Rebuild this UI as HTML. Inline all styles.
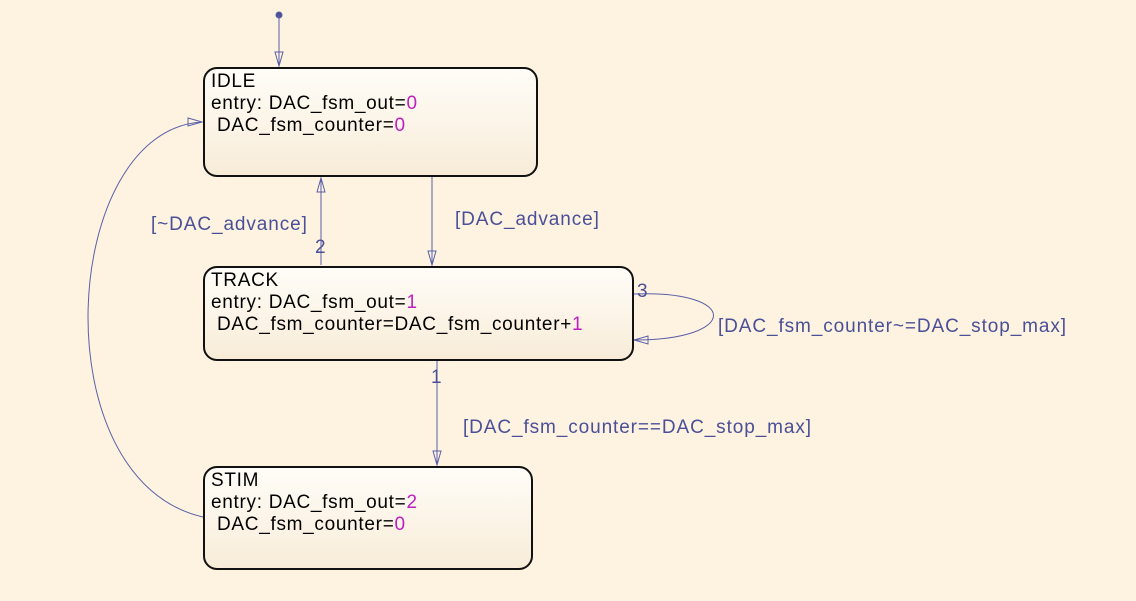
<!DOCTYPE html>
<html><head><style>
body{margin:0;background:#fdf3e0;width:1136px;height:601px;overflow:hidden;font-family:"Liberation Sans",sans-serif}
.s{position:absolute;border:2px solid #111;border-radius:14px;background:linear-gradient(#fffdf8,#f8ecd8);box-sizing:border-box;padding:2px 0 0 6px;font-size:19px;letter-spacing:0.7px;line-height:22px;color:#000;white-space:pre}
.m{color:#c020c0}
.l{position:absolute;color:#4a4f98;font-size:19px;letter-spacing:0.9px;white-space:pre}
</style></head><body>
<svg width="1136" height="601" style="position:absolute;left:0;top:0" fill="none" stroke="#5a5fa8" stroke-width="1">
<circle cx="279" cy="15" r="3" fill="#4a4f98"/>
<line x1="279" y1="15" x2="279" y2="66"/><path d="M275 52 L279 66 L283 52 Z"/>
<line x1="321" y1="265" x2="321" y2="178"/><path d="M317 192 L321 178 L325 192 Z"/>
<line x1="432" y1="177" x2="432" y2="265"/><path d="M428 251 L432 265 L436 251 Z"/>
<line x1="437" y1="361" x2="437" y2="465"/><path d="M433 451 L437 465 L441 451 Z"/>
<path d="M634 294 C 740 290, 740 340, 634 340"/><path d="M648 336 L634 340 L648 344 Z"/>
<path d="M203 517 C 40 480, 60 130, 202 122"/><path d="M188 118 L202 122 L188 126 Z"/>
</svg>
<div class="s" style="left:203px;top:67px;width:335px;height:110px">IDLE
entry: DAC_fsm_out=<span class="m">0</span>
 DAC_fsm_counter=<span class="m">0</span></div>
<div class="s" style="left:203px;top:266px;width:431px;height:95px">TRACK
entry: DAC_fsm_out=<span class="m">1</span>
 DAC_fsm_counter=DAC_fsm_counter+<span class="m">1</span></div>
<div class="s" style="left:203px;top:466px;width:330px;height:104px">STIM
entry: DAC_fsm_out=<span class="m">2</span>
 DAC_fsm_counter=<span class="m">0</span></div>
<div class="l" style="left:151px;top:214px">[~DAC_advance]</div>
<div class="l" style="left:315px;top:237px">2</div>
<div class="l" style="left:455px;top:209px">[DAC_advance]</div>
<div class="l" style="left:637px;top:281px">3</div>
<div class="l" style="left:718px;top:316px">[DAC_fsm_counter~=DAC_stop_max]</div>
<div class="l" style="left:431px;top:367px">1</div>
<div class="l" style="left:463px;top:417px">[DAC_fsm_counter==DAC_stop_max]</div>
</body></html>
